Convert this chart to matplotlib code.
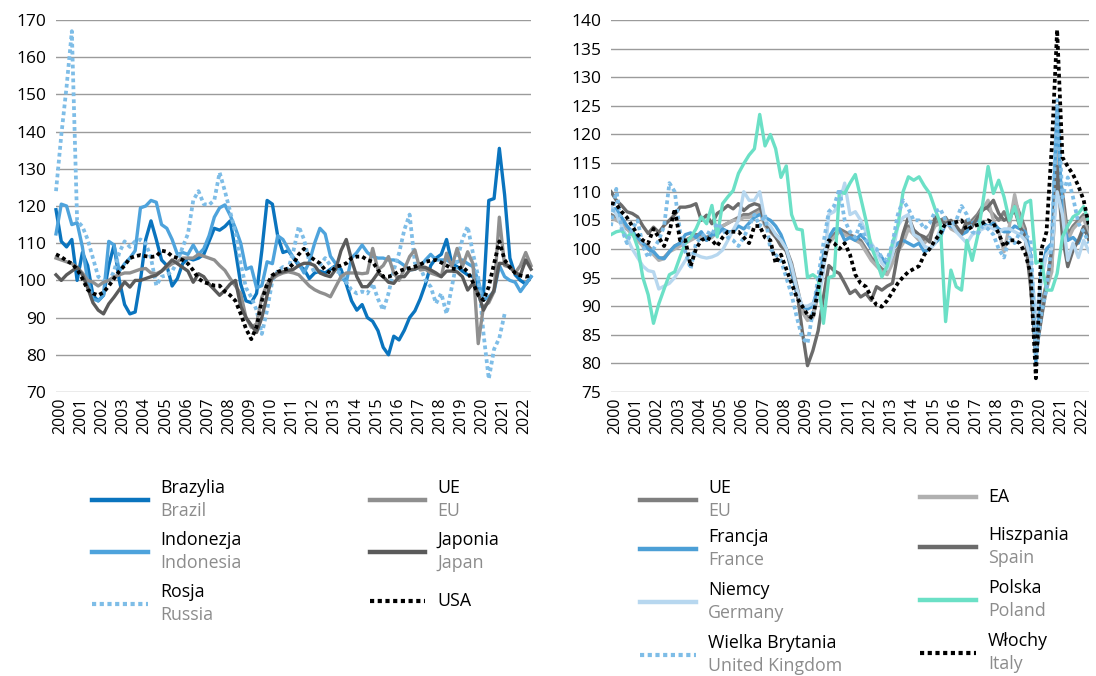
import numpy as np
import matplotlib.pyplot as plt
from matplotlib.lines import Line2D

plt.rcParams['font.family'] = ['Open Sans', 'DejaVu Sans']

nan = np.nan

# lata na osi (co 4 kwartały), dane kwartalne 2000Q1 - 2022Q3
years = [str(y) for y in range(2000, 2023)]

# ---- lewy wykres ----
brazil = [119, 110.5, 109, 111, 100, 107.5, 104, 96, 94.5, 96, 104, 109.5,
          100, 93.5, 91, 91.5, 100, 111, 116, 111, 105.5, 104, 98.5, 100.5,
          104.5, 106, 105.5, 106, 107, 110.5, 114, 113.5, 114.5, 116, 108, 99,
          94.5, 94, 96.5, 108, 121.5, 120.5, 112, 107.5, 108, 106, 104, 103,
          100.5, 102, 102.5, 102, 103, 104, 103, 99, 94.5, 92, 93.5, 90,
          89, 86.5, 82, 80, 85, 84, 86.6, 90, 91.8, 95, 99, 104,
          106, 107, 111, 104.5, 103.7, 102.5, 101.5, 101, 98.3, 96.5, 121.5, 122,
          135.5, 123, 106, 101.5, 100, 99, 101]
indonesia = [112.5, 120.5, 120, 115, 115.5, 109, 100, 95, 94.5, 96, 110.5, 109.5,
             102.5, 104.5, 106, 108, 119.5, 120, 121.5, 121, 115, 114, 111, 107,
             107.5, 107, 109.5, 107, 108.5, 112, 117, 119.5, 120.3, 117.5, 114, 110,
             103, 103.6, 98, 98.6, 105, 104.5, 112, 111, 108.5, 106, 104.5, 102,
             105, 110, 114, 112.5, 106.5, 104.5, 101, 99.5, 106, 107.5, 109.5, 107.5,
             106.4, 106, 106, 105.5, 105.5, 105, 104, 102.8, 103, 103.7, 105.5, 107,
             105.5, 105.5, 105.5, 104.6, 105, 105.5, 104.5, 103.7, 100, 94.7, 95.6, 97,
             104, 101, 100, 99.5, 97, 99, 101]
russia = [124, 139, 152, 167, 116, 114.5, 111, 106, 101, 100, 99.5, 102.5,
          107.5, 110.5, 109, 110.5, 111, 110, 106, 98.6, 101, 101.4, 102.5, 105,
          109, 112.5, 121.5, 124, 120.5, 120.3, 121.6, 129, 124, 118.5, 112.6, 104.5,
          98, 95.5, 92, 85.6, 92, 100, 102.5, 103.6, 103, 108, 114.5, 111,
          105, 102, 104, 106, 104, 102.5, 102, 99.5, 97.4, 96.5, 97, 96.5,
          99.2, 95, 92, 96.5, 102.8, 107.3, 113.6, 117.7, 104.6, 103.7, 100, 98.3,
          93.8, 96.5, 91, 98.3, 105.5, 111, 114.5, 107.3, 101, 85.7, 73.5, 81.5,
          84.5, 91, nan, nan, nan, nan, nan]
eu_l = [106, 105.5, 105, 104.5, 103.5, 102, 100, 99.5, 98.5, 99.5, 100, 101,
        101.5, 102, 102, 102.5, 103, 103.2, 102, 101.8, 102.5, 103.5, 104.5, 105,
        106, 106, 106, 107, 106.5, 106, 105.5, 104, 102.7, 100.5, 98.5, 96.4,
        90, 87.4, 88.3, 95.5, 99, 100.5, 101.4, 102, 102.3, 102, 101.5, 100,
        98.5, 97.5, 96.8, 96.3, 95.6, 98.3, 101, 102, 102, 102, 101.8, 102,
        108.6, 102.8, 104, 106.4, 102, 100, 103, 106.4, 108.2, 102.8, 103, 102,
        101.5, 101, 107.3, 103.7, 108.6, 103.7, 107.7, 104.5, 83, 93, 94, 97,
        117, 104, 103.5, 102, 104, 107.5, 104]
japan = [101.5, 100, 101.5, 102.5, 103.5, 101.5, 98, 94, 92, 91, 93.7, 95.5,
         97.5, 99.6, 98.2, 100, 100, 100.5, 101, 101.4, 102.5, 104, 105.5, 104.5,
         103.5, 102.5, 99.5, 101.8, 101, 99, 97.5, 96, 97.3, 99, 100, 93,
         90, 88, 86, 90, 96, 101, 102, 102.3, 102.7, 103, 104, 104.6,
         104.6, 104, 102, 101.4, 101, 103, 108, 111, 105.5, 101, 98.3, 98.3,
         100, 102, 101, 99.5, 99.2, 101, 101, 102.8, 103, 103.7, 103.5, 102.8,
         102, 101, 102.5, 102.5, 102.3, 101, 97.4, 99.2, 96.5, 92, 94.7, 97.4,
         104.6, 104.5, 103.7, 102, 101.5, 105.5, 103]
usa = [107, 106.3, 105.3, 104.5, 103, 100.5, 97.5, 96.5, 96, 96.8, 98.5, 100.5,
       102.5, 104, 106, 106.5, 106.8, 106.5, 106.3, 106.5, 108, 107.7, 106.5, 106,
       105.5, 104.5, 102.7, 100.5, 99.5, 99.1, 98.6, 98.6, 97, 96, 94.5, 91,
       87, 84.2, 87.5, 94.5, 99, 101.4, 102.3, 102.8, 103.2, 104.5, 107, 108.5,
       106.5, 105.5, 104.6, 102.8, 102, 103.7, 104, 104.6, 106, 106.4, 106.4, 105.5,
       105, 102.8, 101, 101, 101.5, 102.5, 103, 103.3, 103.7, 104.3, 105, 105.3,
       105.5, 104.8, 104, 103.2, 103, 103.7, 102.3, 99.5, 96, 94.7, 98.3, 104.5,
       110.5, 105.5, 103.5, 102, 101.3, 101, 101.4]

# ---- prawy wykres ----
eu_r = [106, 105.5, 104.5, 103.5, 103, 102, 101, 100.5, 99.5, 98.2, 98.5, 99.5,
        100.5, 101, 101.5, 102, 102.5, 102.5, 102, 102.5, 103.5, 104, 104.5, 105,
        105.5, 106, 106, 106.5, 107, 104.5, 103.5, 102.5, 101.5, 100, 97.5, 93.5,
        89.5, 88, 88.5, 92, 97, 101.5, 102.5, 103.5, 103, 102.5, 102, 101.5,
        100, 98.5, 97.5, 96.5, 96, 98, 100, 101.5, 104, 103, 102, 101.5,
        102.5, 104.5, 105, 105.5, 104, 103.5, 103, 104, 105, 106, 107.5, 107,
        106, 105, 106.5, 104.5, 108.5, 106, 103.5, 95, 82, 90, 94, 97,
        115, 110, 102.5, 104, 105, 106, 103]
ea = [105.5, 105, 104.5, 103.5, 102.5, 101.5, 100.5, 100, 99, 98, 98.3, 99.5,
      100, 100.5, 101, 101.5, 102, 102, 101.5, 102, 103, 104, 104.5, 105,
      105, 105.5, 105.5, 106, 106.5, 104, 103, 102, 101, 99.5, 97, 93,
      89, 87.5, 88, 92, 97, 101, 102, 103, 102.5, 102, 101.5, 101,
      99.5, 98, 97, 96, 95.5, 97.5, 99.5, 101, 103.5, 102.5, 101.5, 101,
      102, 104, 104.5, 105, 103.5, 103, 102.5, 103.5, 104.5, 105.5, 107, 108.5,
      105, 103, 99.5, 104, 109.5, 105, 102.5, 94, 81, 89, 93, 96,
      117, 108, 101.5, 103.5, 104.5, 105.5, 102]
france = [107, 107, 105.5, 104, 103, 102, 101, 100, 99.5, 98.5, 98.3, 99.5,
          100.5, 101, 102.5, 102.8, 102, 103, 101.5, 102.5, 102.5, 103.5, 103, 103,
          104, 103.5, 104.5, 105.5, 106, 105.5, 105, 104, 102.5, 100, 96, 92,
          90, 89.5, 90, 93.5, 99, 102, 103.5, 103.5, 101.5, 102, 101.5, 102.5,
          101.5, 100, 99.5, 98.5, 97, 100, 101, 101.5, 101, 100.5, 101, 99.5,
          100, 101, 102, 104.5, 104, 103.5, 102.5, 103, 104.5, 105, 104.5, 104,
          104.5, 103.5, 103, 103, 104, 103.5, 103, 99, 80, 96, 100, 101,
          125, 105, 101.5, 102, 101, 103.5, 102]
spain = [110, 108.5, 107.6, 106.5, 106.2, 105.6, 104, 102.7, 103.8, 102.9, 104.1, 105,
         106, 107.3, 107.3, 107.5, 107.9, 105, 105.9, 104.4, 106.2, 106.8, 107.6, 107,
         107.9, 106.7, 107.5, 107.9, 107.6, 104.4, 103.2, 102.1, 100.5, 99.7, 96.8, 92.7,
         85.7, 79.6, 82.2, 85.7, 91.6, 97.1, 96.2, 95.7, 94, 92.2, 92.8, 91.6,
         92.2, 91, 93.4, 92.8, 93.5, 94, 99.2, 102.7, 105.6, 103.3, 102.5, 102.1,
         101.2, 105.6, 105, 104.4, 105, 104, 102.7, 105, 103.9, 105.5, 106.8, 107.4,
         108.5, 106.2, 105, 105.5, 106.8, 103.9, 102.1, 93.4, 81.7, 87.6, 93.4, 100,
         114.4, 102.1, 96.9, 99.8, 101.5, 103.9, 101.5]
germany = [107.5, 106, 104, 102, 100, 98.5, 97, 96.2, 96, 93, 93.5, 94,
           95, 96.5, 98, 99.2, 99, 98.6, 98.4, 98.6, 99, 99.8, 101.5, 103.3,
           105, 110, 108.5, 108.5, 110, 105, 104, 102.5, 101.5, 100, 97, 93,
           90, 90, 90.5, 91, 96, 106, 106.5, 108, 111.5, 106, 106.5, 105,
           103, 101, 99.5, 97.5, 96.5, 99, 104, 105.5, 106, 102.5, 102, 100.5,
           100, 101, 103.5, 104, 104.5, 103, 102, 101, 102.5, 103, 103.5, 104,
           103.5, 103, 103.5, 103.5, 103, 102.5, 101.5, 98.5, 88, 94.5, 99, 100,
           110, 106, 98, 101, 98.5, 101.5, 99.5]
poland = [102.5, 103, 103.2, 102, 103, 100.3, 95, 92, 87, 90.4, 93, 95.5,
          96, 98.6, 101, 102, 103.5, 105.6, 104.4, 107.6, 102.1, 107.9, 109.1, 110.2,
          113.2, 114.9, 116.4, 117.5, 123.5, 118, 120, 117.5, 112.5, 114.5, 106, 103.5,
          103.3, 95, 95.5, 94.8, 87, 95, 95.3, 110, 109.7, 111.5, 113, 109,
          105, 100.4, 98, 95.1, 97, 101, 104, 110, 112.6, 112, 112.6, 111,
          109.7, 107, 104.5, 87.3, 96.3, 93.4, 92.8, 101.5, 98, 102.1, 108, 114.4,
          109.7, 112, 109.1, 105, 107.4, 103.9, 108, 108.5, 97.5, 98, 92.8, 92.8,
          95.7, 102.1, 104, 105.6, 106.2, 107.4, 104.5]
uk = [104, 110.5, 103.5, 101, 103.5, 105, 100.5, 98.5, 100, 101.5, 104, 111.5,
      110, 103, 99.5, 96.5, 101, 102, 103, 102.5, 104.5, 103.5, 102, 101.5,
      100.5, 102, 104, 106, 104, 106, 100, 99, 98, 95, 92, 88,
      84.5, 83.5, 89, 95, 101, 106.5, 107.5, 110.5, 105, 103, 102, 104.5,
      101.5, 100.5, 100, 98.5, 98, 101, 106, 108.5, 107, 105, 105, 103.5,
      104.5, 106.5, 107, 105, 104, 105, 107.5, 106, 103, 102.5, 104, 103.5,
      102.5, 100, 98.5, 102, 101, 103, 102.5, 101.5, 81, 88.5, 93, 101,
      126, 109, 112.5, 109, 104.5, 103, 101]
italy = [108, 107.8, 106.5, 105.5, 104, 102.5, 101.5, 101, 103.5, 102, 100.5, 103,
         107, 101.5, 101.5, 97, 100, 101.5, 102, 101.5, 100.5, 102, 103, 103,
         103, 102, 101, 104, 104, 102, 101.5, 97.5, 99, 96.5, 94, 91.5,
         90, 88.5, 87.8, 93, 97.5, 101.5, 101, 100, 101, 99, 95.5, 94,
         93.4, 91.6, 90.2, 89.9, 91, 92.5, 94, 95.1, 96, 96.5, 97, 99,
         100, 101.5, 102.7, 104.5, 104.5, 104.7, 105, 103.3, 103.9, 104.2, 104.5, 105,
         104.5, 102.7, 100.4, 101.5, 101.5, 101, 99.2, 95.7, 77.4, 99.8, 103, 118,
         138.3, 116, 114.4, 113, 111, 108.5, 104]

W, H = 1096, 676
fig = plt.figure(figsize=(W / 100, H / 100), dpi=100)


def box(x0, x1, y0, y1):
    return [x0 / W, 1 - y1 / H, (x1 - x0) / W, (y1 - y0) / H]


def fx(x):
    return x / W


def fy(y):
    return 1 - y / H


DOT = (0, (1, 0.85))


def style(ax, lo, hi, step):
    ax.set_xlim(0, 90)
    ax.set_ylim(lo, hi)
    ax.set_yticks(np.arange(lo, hi + 1, step))
    # etykiety lat lekko przesunięte w prawo, jak w oryginale
    ax.set_xticks(np.arange(0, 91, 4) + 0.8)
    ax.set_xticklabels(years, rotation=90)
    ax.tick_params(axis='x', length=0, labelsize=11.5, pad=4)
    ax.tick_params(axis='y', length=0, labelsize=12.5, pad=7)
    for s in ax.spines.values():
        s.set_visible(False)
    ax.grid(axis='y', color='#9b9b9b', lw=1.0)
    ax.set_axisbelow(True)


q = np.arange(91)

ax1 = fig.add_axes(box(56, 531, 20, 392))
style(ax1, 70, 170, 10)
left_series = [
    (brazil, '#0a74be', '-'),
    (indonesia, '#4ea3dc', '-'),
    (russia, '#7ebde7', DOT),
    (eu_l, '#8f8f8f', '-'),
    (japan, '#5a5a5a', '-'),
    (usa, '#000000', DOT),
]
for vals, c, ls in left_series:
    ax1.plot(q, vals, color=c, lw=2.4 if ls == '-' else 2.7, ls=ls, clip_on=False)

ax2 = fig.add_axes(box(611, 1089, 20, 392))
style(ax2, 75, 140, 5)
right_series = [
    (eu_r, '#7f7f7f', '-'),
    (ea, '#b0b0b0', '-'),
    (france, '#4c9fd6', '-'),
    (spain, '#6b6b6b', '-'),
    (germany, '#b7d7ef', '-'),
    (poland, '#6be0c6', '-'),
    (uk, '#7ebde7', DOT),
    (italy, '#000000', DOT),
]
for vals, c, ls in right_series:
    ax2.plot(q, vals, color=c, lw=2.4 if ls == '-' else 2.7, ls=ls)

# ---- legendy ----
grey_txt = '#8c8c8c'


def entry(x0, x1, y, color, ls, pl, en=None):
    fig.add_artist(Line2D([fx(x0), fx(x1)], [fy(y), fy(y)], color=color,
                          lw=3.2 if ls == '-' else 3.0, ls=ls))
    if en is None:
        fig.text(fx(x1 + 12), fy(y), pl, fontsize=12.8, va='center', ha='left')
    else:
        fig.text(fx(x1 + 12), fy(y - 12), pl, fontsize=12.8, va='center', ha='left')
        fig.text(fx(x1 + 12), fy(y + 11), en, fontsize=12.8, va='center', ha='left',
                 color=grey_txt)


entry(92, 148, 500, '#0a74be', '-', 'Brazylia', 'Brazil')
entry(92, 148, 552, '#4ea3dc', '-', 'Indonezja', 'Indonesia')
entry(92, 148, 604, '#7ebde7', DOT, 'Rosja', 'Russia')
entry(370, 425, 500, '#8f8f8f', '-', 'UE', 'EU')
entry(370, 425, 552, '#5a5a5a', '-', 'Japonia', 'Japan')
entry(370, 425, 601, '#000000', DOT, 'USA')

entry(640, 696, 500, '#7f7f7f', '-', 'UE', 'EU')
entry(640, 696, 549, '#4c9fd6', '-', 'Francja', 'France')
entry(640, 696, 602, '#b7d7ef', '-', 'Niemcy', 'Germany')
entry(640, 696, 655, '#7ebde7', DOT, 'Wielka Brytania', 'United Kingdom')
entry(920, 976, 497, '#b0b0b0', '-', 'EA')
entry(920, 976, 547, '#6b6b6b', '-', 'Hiszpania', 'Spain')
entry(920, 976, 600, '#6be0c6', '-', 'Polska', 'Poland')
entry(920, 976, 653, '#000000', DOT, 'Włochy', 'Italy')

fig.savefig('out.png', dpi=100)
